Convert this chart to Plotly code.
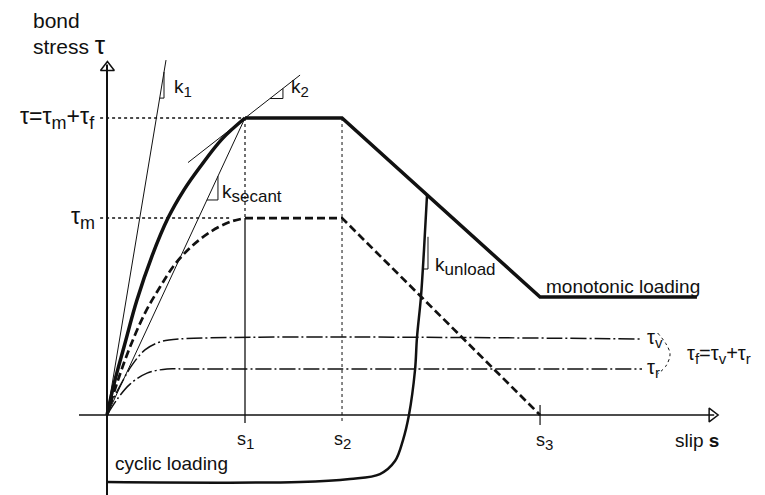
import plotly.graph_objects as go

# ---- schematic key values (slip s normalised to s1, bond stress normalised to tau_max) ----
s1, s2, s3 = 1.0, 1.703, 3.138
s_res_end = 4.275
tau_max, tau_m, tau_v, tau_r, tau_res = 1.0, 0.663, 0.256, 0.155, 0.397
tau_cyc_min = -0.2256
s_flat_end = 3.877          # end of tau_v / tau_r lines

# monotonic ascending branch
mono_s = [0.0, 0.058, 0.123, 0.217, 0.326, 0.442, 0.558, 0.674, 0.833, 1.0]
mono_t = [0.0, 0.118, 0.229, 0.387, 0.535, 0.663, 0.758, 0.835, 0.929, 1.0]

# cyclic envelope (tau_m) ascending branch
cyc_s = [0.0, 0.080, 0.167, 0.275, 0.384, 0.493, 0.616, 0.761, 0.891, 1.0]
cyc_t = [0.0, 0.118, 0.229, 0.343, 0.431, 0.508, 0.569, 0.620, 0.650, 0.663]

# tau_v and tau_r branches
tv_s = [0.0, 0.043, 0.109, 0.181, 0.275, 0.384, 0.529]
tv_t = [0.0, 0.051, 0.111, 0.168, 0.219, 0.246, 0.256]
tr_s = [0.0, 0.080, 0.167, 0.290, 0.435, 0.565]
tr_t = [0.0, 0.057, 0.104, 0.141, 0.155, 0.155]

# cyclic loading / unloading curve
cl_s = [0.0, 1.399, 1.761, 1.978, 2.087, 2.145, 2.188, 2.232, 2.246, 2.275, 2.297, 2.319]
cl_t = [-0.2256, -0.2256, -0.2155, -0.1987, -0.1549, -0.0842, 0.0, 0.1515, 0.2593, 0.3973, 0.5556, 0.7407]

# stiffness construction lines
k1_s, k1_t = [0.0, 0.4275], [0.0, 1.195]
k1_tri_s, k1_tri_t = [0.3818, 0.413, 0.413], [1.067, 1.067, 1.155]
sec_s, sec_t = [0.0, 1.0], [0.0, 1.0]
sec_tri_s, sec_tri_t = [0.724, 0.804, 0.804], [0.724, 0.724, 0.804]
k2_s, k2_t = [0.587, 1.399], [0.850, 1.1446]
k2_tri_s, k2_tri_t = [1.181, 1.275, 1.275], [1.0656, 1.0656, 1.0997]
ku_tri_s, ku_tri_t = [2.290, 2.326, 2.326], [0.4916, 0.4916, 0.60]

# brace
br_s = [3.990, 4.050, 4.080, 4.050, 3.990]
br_t = [0.276, 0.240, 0.205, 0.165, 0.138]

FONT = "Liberation Sans, Arial, sans-serif"
BLACK = "#111111"

fig = go.Figure()

def line(xs, ys, width=1.0, dash="solid", color=BLACK, shape="linear"):
    fig.add_trace(go.Scatter(x=xs, y=ys, mode="lines",
                             line=dict(color=color, width=width, dash=dash, shape=shape),
                             hoverinfo="skip"))

# axes
line([-0.203, 4.40], [0, 0], width=1.5)
line([0, 0], [-0.2694, 1.18], width=2.0)
fig.add_trace(go.Scatter(x=[4.385], y=[0], mode="markers",
                         marker=dict(symbol="triangle-right-open", size=12, color=BLACK,
                                     line=dict(width=1.5, color=BLACK)), hoverinfo="skip"))
fig.add_trace(go.Scatter(x=[0.003], y=[1.17], mode="markers",
                         marker=dict(symbol="triangle-up-open", size=12, color=BLACK,
                                     line=dict(width=1.5, color=BLACK)), hoverinfo="skip"))

# reference lines
line([-0.05, s1], [tau_max, tau_max], width=1.5, dash="dot")
line([-0.05, 0.90], [tau_m, tau_m], width=1.5, dash="dot")
line([s1, s1], [tau_max, tau_m], width=1.2, dash="dot")
line([s1, s1], [tau_m, -0.027], width=1.3)
line([s2, s2], [tau_max, -0.027], width=1.0, dash="dot")
line([s3, s3], [0.034, -0.034], width=1.2)

# stiffness lines
line(k1_s, k1_t, width=1.0)
line(k1_tri_s, k1_tri_t, width=1.0)
line(sec_s, sec_t, width=1.0)
line(sec_tri_s, sec_tri_t, width=1.0)
line(k2_s, k2_t, width=1.0)
line(k2_tri_s, k2_tri_t, width=1.0)
line(ku_tri_s, ku_tri_t, width=1.0)

# tau_v, tau_r
line(tv_s + [s_flat_end], tv_t + [tau_v], width=1.5, dash="16px,3px,2px,3px", shape="spline")
line(tr_s + [s_flat_end], tr_t + [tau_r], width=1.5, dash="16px,3px,2px,3px", shape="spline")
line(br_s, br_t, width=1.0, dash="dot", shape="spline")

# cyclic envelope (dashed)
line(cyc_s, cyc_t, width=2.7, dash="8px,4px", shape="spline")
line([s1, s2, s3], [tau_m, tau_m, 0.0], width=2.7, dash="8px,4px")

# monotonic curve
line(mono_s, mono_t, width=3.5, shape="spline")
line([s1, s2, s3, s_res_end], [tau_max, tau_max, tau_res, tau_res], width=3.5)

# cyclic loading curve
line(cl_s, cl_t, width=2.5, shape="spline")

def text(x, y, t, size=17, xa="left", ya="middle"):
    fig.add_annotation(x=x, y=y, text=t, showarrow=False, xanchor=xa, yanchor=ya,
                       font=dict(family=FONT, size=size, color=BLACK))

def sub(t, px):
    return f"<sub><span style='font-size:{px}px'>{t}</span></sub>"

text(-0.55, 1.328, "bond", size=21)
text(-0.55, 1.245, "stress <span style='font-size:26px'>τ</span>", size=21)
text(-0.07, tau_max, "τ=τ" + sub("m", 18) + "+τ" + sub("f", 18), size=23, xa="right")
text(-0.07, tau_m, "τ" + sub("m", 18), size=23, xa="right")
text(0.47, 1.10, "k" + sub("1", 15), size=19)
text(1.32, 1.10, "k" + sub("2", 15), size=19)
text(0.82, 0.745, "k" + sub("secant", 17), size=19)
text(2.36, 0.50, "k" + sub("unload", 17), size=19)
text(3.17, 0.432, "monotonic loading", size=19)
text(0.04, -0.162, "cyclic loading", size=19)
text(3.90, tau_v, "τ" + sub("v", 15), size=20)
text(3.90, tau_r, "τ" + sub("r", 15), size=20)
text(4.19, 0.205, "τ" + sub("f", 15) + "=τ" + sub("v", 15) + "+τ" + sub("r", 15), size=20)
text(s1, -0.085, "s" + sub("1", 15), size=18, xa="center")
text(s2, -0.085, "s" + sub("2", 15), size=18, xa="center")
text(s3 + 0.03, -0.088, "s" + sub("3", 15), size=18, xa="center")
text(4.10, -0.085, "slip <b>s</b>", size=19)

fig.update_layout(
    width=765, height=495, margin=dict(l=0, r=0, t=0, b=0),
    paper_bgcolor="white", plot_bgcolor="white", showlegend=False,
    xaxis=dict(range=[-0.7754, 4.7681], visible=False, fixedrange=True),
    yaxis=dict(range=[-0.26936, 1.39731], visible=False, fixedrange=True),
)
fig.write_html("out.html")
